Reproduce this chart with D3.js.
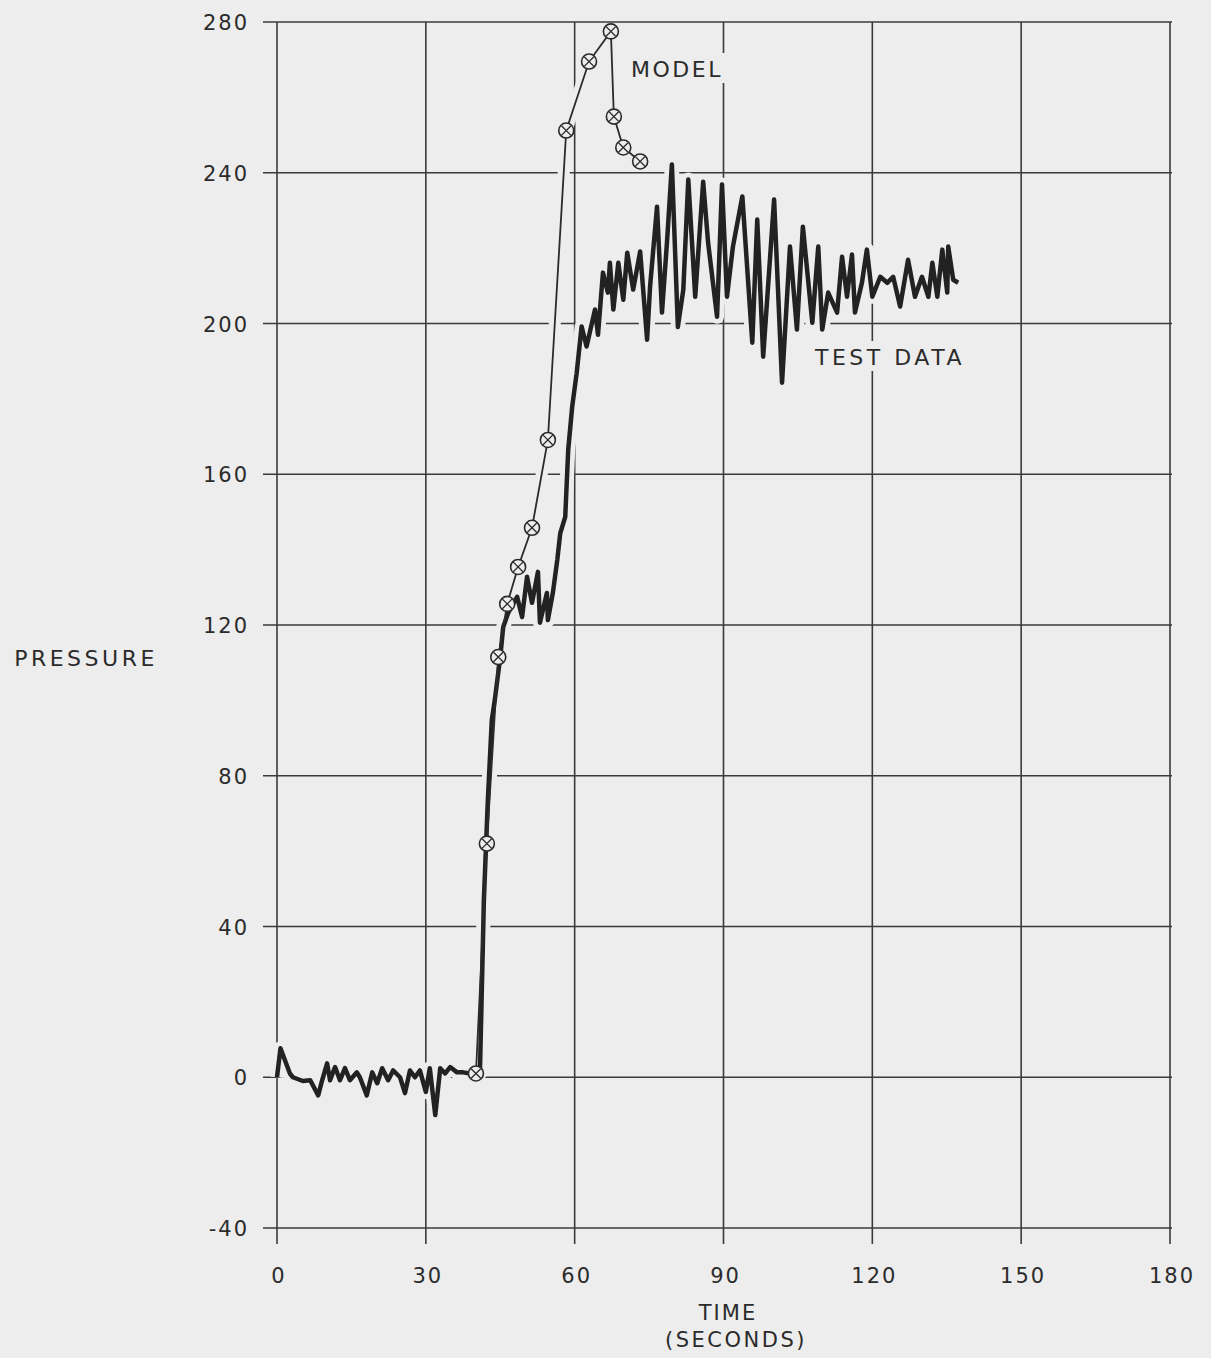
<!DOCTYPE html>
<html>
<head>
<meta charset="utf-8">
<script src="https://cdn.jsdelivr.net/npm/d3@7"></script>
<style>
  body { margin: 0; background: #ededed; }
  svg { display: block; }
  text { font-family: "DejaVu Sans", sans-serif; fill: #2b2b2b; }
</style>
</head>
<body>
<div id="chart"></div>
<script>
// tick values
const xTicks = [0, 30, 60, 90, 120, 150, 180];
const yTicks = [-40, 0, 40, 80, 120, 160, 200, 240, 280];

// model points (time s, pressure)
const modelTime = [40.1, 42.3, 44.6, 46.4, 48.6, 51.4, 54.6, 58.3, 62.9, 67.3, 67.9, 69.8, 73.2];
const modelPressure = [1, 62, 111.5, 125.6, 135.4, 145.8, 169.1, 251.2, 269.5, 277.5, 254.9, 246.7, 243];

// test data trace
const testTime = [
  0, 0.7, 2.6, 3.2, 5.2, 6.7, 8.3, 9.1, 10.1, 10.7, 11.7, 12.7, 13.7, 14.7, 16.1, 16.7,
  18.1, 19.2, 20.2, 21.2, 22.4, 23.4, 24.8, 25.8, 26.8, 27.8, 28.8, 30.0, 30.8, 31.9,
  32.9, 33.9, 34.9, 36.3, 37.5, 38.9, 40.1, 40.9, 41.7, 42.5, 43.3, 43.9, 45.0, 45.6,
  46.6, 48.4, 49.4, 50.4, 51.4, 52.6, 53.0, 54.4, 54.6, 55.6, 56.5, 57.1, 58.1, 58.7,
  59.5, 60.4, 61.4, 62.4, 64.1, 64.7, 65.7, 66.7, 67.1, 67.8, 68.8, 69.8, 70.6, 71.8,
  73.2, 74.6, 75.2, 76.6, 77.6, 78.6, 79.6, 80.8, 81.9, 82.9, 84.3, 85.9, 86.9, 88.7,
  89.7, 90.7, 91.9, 93.8, 95.8, 96.8, 98.0, 100.2, 101.8, 103.4, 104.8, 106.0, 107.9,
  109.1, 109.9, 111.1, 112.9, 113.9, 114.9, 115.9, 116.5, 117.9, 118.9, 120.0, 121.6,
  123.0, 124.2, 125.6, 127.2, 128.6, 130.0, 131.3, 132.1, 133.1, 134.1, 135.1, 135.3,
  136.3, 137.3
];
const testPressure = [
  0, 7.7, 1, 0, -1, -0.8, -4.8, -0.8, 3.7, -0.8, 2.7, -0.8, 2.4, -0.8, 1.3, 0,
  -4.8, 1.3, -1.6, 2.4, -0.8, 1.8, 0, -4.2, 1.8, 0, 1.8, -3.9, 2.4, -10,
  2.4, 1, 2.7, 1.3, 1.3, 1, 1, 1, 47, 73.6, 94.8, 100.1, 111.5, 119.5,
  123.2, 127.5, 122.1, 132.8, 125.9, 134.1, 120.6, 128.5, 121.3, 128.5, 137.3, 144.4, 148.7, 166.5,
  177.9, 186.8, 199.2, 193.9, 203.7, 197, 213.5, 208.2, 216.1, 203.7, 216.1, 206.3, 218.8, 209,
  219.1, 195.7, 209.8, 231, 202.9, 221.4, 242.2, 199.1, 209, 238.2, 207.1, 237.6, 221.4, 201.8,
  236.9, 207.1, 220.4, 233.7, 194.9, 227.6, 191.2, 232.9, 184.3, 220.4, 198.4, 225.7, 200.2,
  220.4, 198.4, 208.2, 202.9, 217.7, 207.1, 218.3, 202.9, 210.8, 219.6, 207.1, 212.4,
  210.8, 212.4, 204.5, 216.9, 207.1, 212.4, 207.1, 216.1, 207.1, 219.6, 208.2, 220.4,
  211.6, 210.8
];

const W = 1211, H = 1358;
const bg = "#ededed", ink = "#2b2b2b";

const svg = d3.select("#chart").append("svg")
  .attr("width", W)
  .attr("height", H);

svg.append("rect").attr("width", W).attr("height", H).attr("fill", bg);

const x = d3.scaleLinear().domain([0, 180]).range([277, 1170]);
const y = d3.scaleLinear().domain([-40, 280]).range([1228, 22]);

// grid
const grid = svg.append("g").attr("stroke", "#3a3a3a").attr("stroke-width", 1.6);
grid.selectAll("line.v").data(xTicks).enter().append("line")
  .attr("x1", d => x(d)).attr("x2", d => x(d))
  .attr("y1", y(280)).attr("y2", y(-40) + 16);
grid.selectAll("line.h").data(yTicks).enter().append("line")
  .attr("x1", x(0) - 14).attr("x2", x(180) + 2)
  .attr("y1", d => y(d)).attr("y2", d => y(d));

// tick labels
svg.append("g").selectAll("text").data(yTicks).enter().append("text")
  .attr("x", x(0) - 28).attr("y", d => y(d) + 8)
  .attr("text-anchor", "end")
  .attr("font-size", 21).attr("letter-spacing", 2)
  .text(d => d);
svg.append("g").selectAll("text").data(xTicks).enter().append("text")
  .attr("x", d => x(d) + 2).attr("y", y(-40) + 55)
  .attr("text-anchor", "middle")
  .attr("font-size", 21).attr("letter-spacing", 2)
  .text(d => d);

// axis titles
svg.append("text").attr("x", 86).attr("y", 666).attr("text-anchor", "middle")
  .attr("font-size", 22).attr("letter-spacing", 3.5).text("PRESSURE");
svg.append("text").attr("x", 728).attr("y", 1320).attr("text-anchor", "middle")
  .attr("font-size", 21).attr("letter-spacing", 2).text("TIME");
svg.append("text").attr("x", 736).attr("y", 1347).attr("text-anchor", "middle")
  .attr("font-size", 21).attr("letter-spacing", 2.5).text("(SECONDS)");

const testPts = testTime.map((t, i) => [t, testPressure[i]]);
const modelPts = modelTime.map((t, i) => [t, modelPressure[i]]);
const line = d3.line().x(d => x(d[0])).y(d => y(d[1]));

// background halo so grid breaks around the curves
svg.append("path").datum(testPts).attr("d", line)
  .attr("fill", "none").attr("stroke", bg).attr("stroke-width", 14).attr("stroke-linejoin", "round");
svg.append("path").datum(modelPts).attr("d", line)
  .attr("fill", "none").attr("stroke", bg).attr("stroke-width", 12).attr("stroke-linejoin", "round");

// test data
svg.append("path").datum(testPts).attr("d", line)
  .attr("fill", "none").attr("stroke", "#222").attr("stroke-width", 4.5)
  .attr("stroke-linejoin", "round");

// model
svg.append("path").datum(modelPts).attr("d", line)
  .attr("fill", "none").attr("stroke", ink).attr("stroke-width", 1.8);

const mk = svg.append("g").selectAll("g").data(modelPts).enter().append("g")
  .attr("transform", d => `translate(${x(d[0])},${y(d[1])})`);
mk.append("circle").attr("r", 7.5).attr("fill", bg).attr("stroke", ink).attr("stroke-width", 1.6);
mk.append("path").attr("d", "M-4.8,-4.8L4.8,4.8M-4.8,4.8L4.8,-4.8")
  .attr("stroke", ink).attr("stroke-width", 1.3);

// labels with cleared background
function label(txt, cx, cy, w, ls) {
  svg.append("rect").attr("x", cx - w / 2).attr("y", cy - 16).attr("width", w).attr("height", 30).attr("fill", bg);
  svg.append("text").attr("x", cx).attr("y", cy + 8).attr("text-anchor", "middle")
    .attr("font-size", 22).attr("letter-spacing", ls).text(txt);
}
label("MODEL", 677, 69, 112, 2.5);
label("TEST DATA", 890, 357, 200, 3.5);
</script>
</body>
</html>
